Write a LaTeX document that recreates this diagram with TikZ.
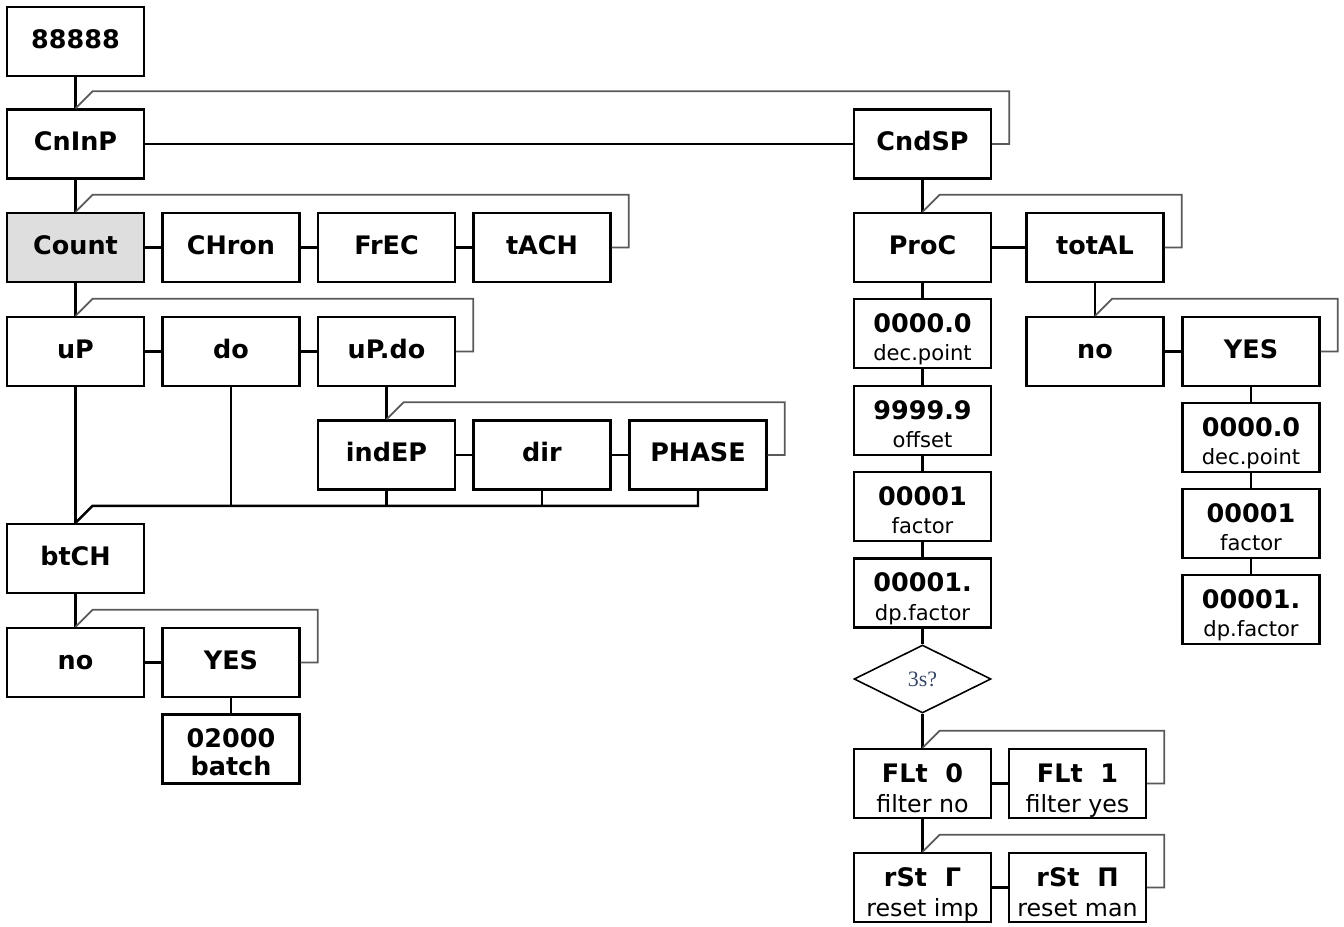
\documentclass[tikz,border=0pt]{standalone}
\usepackage{fontspec}
\setmainfont{DejaVu Sans}
\newfontfamily\serifnote{Liberation Serif}
\usetikzlibrary{shapes.geometric}
\definecolor{asktext}{RGB}{55,70,100}

\tikzset{
  menubox/.style={draw, line width=1.4pt, minimum width=2.74cm, minimum height=1.38cm,
    inner sep=0pt, align=center, font=\fontsize{14.5}{16.2}\selectfont\bfseries,
    execute at begin node=\vphantom{Ag}},
  link/.style={line width=1.4pt},
  loopline/.style={draw=black!65, line width=1pt},
  ask/.style={draw, diamond, line width=0.9pt, minimum width=2.74cm, minimum height=1.36cm,
    inner sep=0pt, font=\serifnote\fontsize{12.5}{15}\selectfont, text=asktext}
}
\newcommand{\twoline}[2]{\rule{0pt}{18.9pt}#1\\{\mdseries\fontsize{12}{16.2}\selectfont #2}\rule[-3.9pt]{0pt}{3.9pt}}
\newcommand{\optline}[2]{\rule{0pt}{18.8pt}#1\\[0.8pt]{\mdseries\fontsize{13.5}{16.2}\selectfont #2}\rule[-3.2pt]{0pt}{3.2pt}}

\begin{document}
\begin{tikzpicture}[x=0.02cm,y=-0.02cm]
  \useasboundingbox (0,0) rectangle (1344,926);
  % counter side
  \node[menubox] (disp) at (75.5,41.5) {88888};
  \node[menubox] (cninp) at (75.5,144) {CnInP};
  \node[menubox,fill=black!13] (count) at (75.5,247.5) {Count};
  \node[menubox] (chron) at (231,247.5) {CHron};
  \node[menubox] (frec) at (386.5,247.5) {FrEC};
  \node[menubox] (tach) at (542,247.5) {tACH};
  \node[menubox] (up) at (75.5,351.5) {uP};
  \node[menubox] (do) at (231,351.5) {do};
  \node[menubox] (updo) at (386.5,351.5) {uP.do};
  \node[menubox] (indep) at (386.5,455) {indEP};
  \node[menubox] (dir) at (542,455) {dir};
  \node[menubox] (phase) at (698,455) {PHASE};
  \node[menubox] (btch) at (75.5,558.5) {btCH};
  \node[menubox] (btno) at (75.5,662.5) {no};
  \node[menubox] (btyes) at (231,662.5) {YES};
  \node[menubox] (batch) at (231,749) {\rule{0pt}{17.6pt}02000\\batch};
  % display side
  \node[menubox] (cndsp) at (922.5,144) {CndSP};
  \node[menubox] (proc) at (922.5,247.5) {ProC};
  \node[menubox] (total) at (1095,247.5) {totAL};
  \node[menubox] (pdec) at (922.5,333.5) {\twoline{0000.0}{dec.point}};
  \node[menubox] (poff) at (922.5,420.5) {\twoline{9999.9}{offset}};
  \node[menubox] (pfac) at (922.5,506.5) {\twoline{00001}{factor}};
  \node[menubox] (pdpf) at (922.5,593) {\twoline{00001.}{dp.factor}};
  \node[ask] (hold) at (922.5,679) {3s?};
  \node[menubox] (flt0) at (922.5,783.5) {\optline{FLt\ \ 0}{filter no}};
  \node[menubox] (flt1) at (1077.5,783.5) {\optline{FLt\ \ 1}{filter yes}};
  \node[menubox] (rst0) at (922.5,887.5) {\optline{rSt\ \ Γ}{reset imp}};
  \node[menubox] (rst1) at (1077.5,887.5) {\optline{rSt\ \ Π}{reset man}};
  \node[menubox] (tno) at (1095,351.5) {no};
  \node[menubox] (tyes) at (1251,351.5) {YES};
  \node[menubox] (tdec) at (1251,437.5) {\twoline{0000.0}{dec.point}};
  \node[menubox] (tfac) at (1251,523.5) {\twoline{00001}{factor}};
  \node[menubox] (tdpf) at (1251,609.5) {\twoline{00001.}{dp.factor}};

  \foreach \a/\b in {disp/cninp, cninp/count, count/up, updo/indep, up/btch, btch/btno,
      btyes/batch, cndsp/proc, proc/pdec, pdec/poff, poff/pfac, pfac/pdpf, pdpf/hold,
      hold/flt0, flt0/rst0, total/tno, tyes/tdec, tdec/tfac, tfac/tdpf}
    \draw[link] (\a.south) -- (\b.north);
  \foreach \a/\b in {cninp/cndsp, count/chron, chron/frec, frec/tach, up/do, do/updo,
      indep/dir, dir/phase, btno/btyes, proc/total, tno/tyes, flt0/flt1, rst0/rst1}
    \draw[link] (\a.east) -- (\b.west);
  \foreach \a/\b in {cninp/cndsp, count/tach, up/updo, indep/phase, btno/btyes,
      proc/total, tno/tyes, flt0/flt1, rst0/rst1}
    \draw[loopline] (\a.north) -- ++(17,-17) -| ([xshift=0.34cm]\b.east) -- (\b.east);

  \draw[link] (btch.north) -- ++(17,-17) coordinate (join) -| (phase.south);
  \foreach \n in {do,indep,dir}
    \draw[link] (\n.south) -- (\n.south |- join);
\end{tikzpicture}
\end{document}
